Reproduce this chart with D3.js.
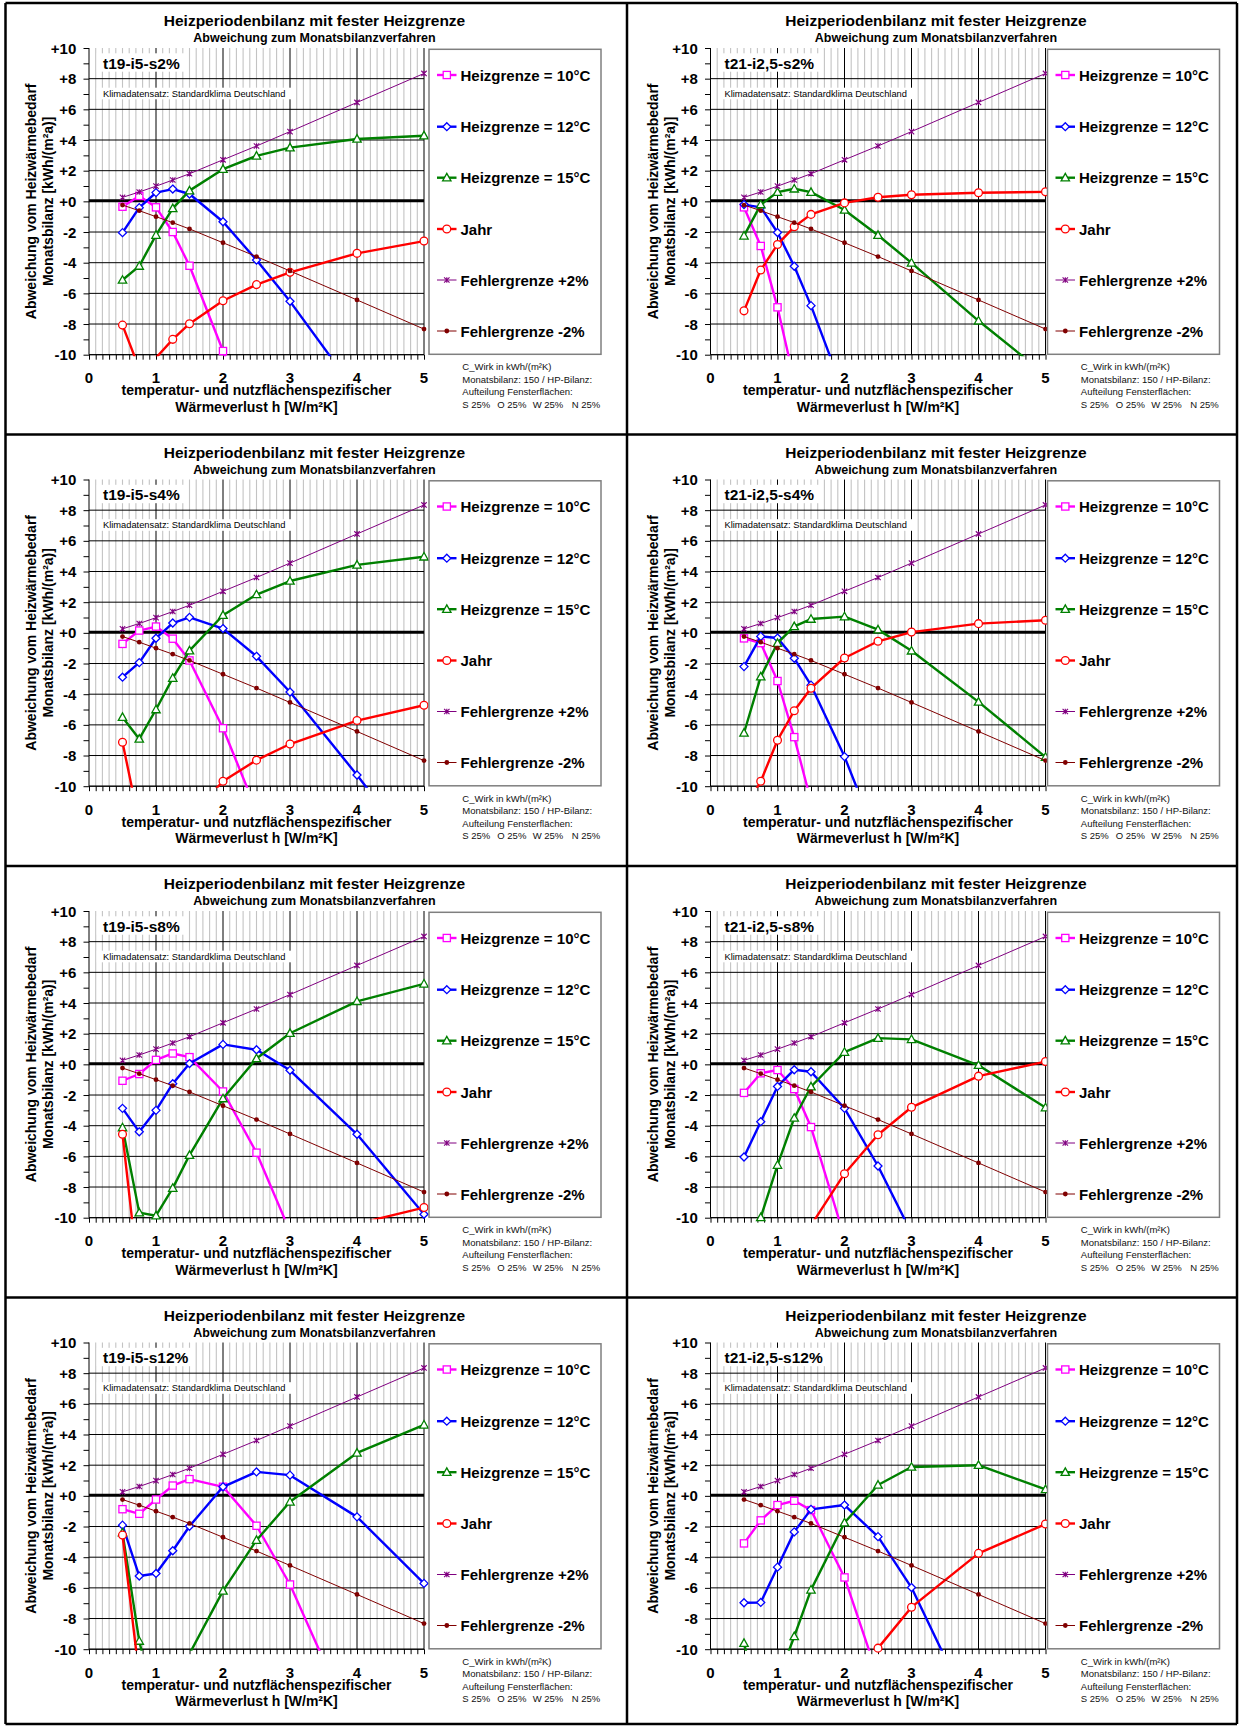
<!DOCTYPE html>
<html><head><meta charset="utf-8">
<script src="https://cdn.jsdelivr.net/npm/d3@7"></script>
<style>
body{margin:0;background:#fff}
svg{display:block}
text{font-family:"Liberation Sans",Arial,Helvetica,sans-serif}
</style>
</head><body>
<svg id="chart" width="1239" height="1726"></svg>
<script>
// ---------- DATA ----------
const hValues = [0.5, 0.75, 1, 1.25, 1.5, 2, 2.5, 3, 4, 5];
const xTickLabels = ["0", "1", "2", "3", "4", "5"];
const yTickValues = [10, 8, 6, 4, 2, 0, -2, -4, -6, -8, -10];
const yTickLabels = ["+10", "+8", "+6", "+4", "+2", "+0", "-2", "-4", "-6", "-8", "-10"];
const seriesNames = ["Heizgrenze = 10°C", "Heizgrenze = 12°C", "Heizgrenze = 15°C", "Jahr", "Fehlergrenze +2%", "Fehlergrenze -2%"];
const panelLabels = ["t19-i5-s2%", "t21-i2,5-s2%", "t19-i5-s4%", "t21-i2,5-s4%", "t19-i5-s8%", "t21-i2,5-s8%", "t19-i5-s12%", "t21-i2,5-s12%"];

const fgPlus  = [0.26, 0.61, 0.99, 1.39, 1.8, 2.71, 3.61, 4.55, 6.45, 8.34];
const fgMinus = [-0.24, -0.61, -1.0, -1.39, -1.8, -2.7, -3.6, -4.54, -6.43, -8.33];

// t19-i5-s2%
const hg10_t19_s2 = [-0.35, 0.35, -0.39, -2.0, -4.2, -9.76, -16, -22, -30, -38];
const hg12_t19_s2 = [-2.04, -0.41, 0.57, 0.8, 0.48, -1.33, -3.83, -6.52, -12.5, -19];
const hg15_t19_s2 = [-5.13, -4.22, -2.2, -0.46, 0.7, 2.1, 2.96, 3.5, 4.07, 4.28];
const jahr_t19_s2 = [-8.07, -10.9, -10.2, -9.0, -7.98, -6.48, -5.43, -4.63, -3.39, -2.59];
// t21-i2,5-s2%
const hg10_t21_s2 = [-0.39, -2.91, -6.91, -11.7, -16, -24, -30, -36, -44, -50];
const hg12_t21_s2 = [-0.21, -0.39, -2.03, -4.23, -6.8, -12.6, -18, -24, -32, -40];
const hg15_t21_s2 = [-2.25, -0.21, 0.6, 0.82, 0.6, -0.56, -2.21, -4.01, -7.79, -11.3];
const jahr_t21_s2 = [-7.14, -4.48, -2.81, -1.66, -0.85, -0.1, 0.27, 0.43, 0.56, 0.62];
// t19-i5-s4%
const hg10_t19_s4 = [-0.72, 0.15, 0.41, -0.38, -1.8, -6.22, -11.6, -17, -25, -33];
const hg12_t19_s4 = [-2.89, -1.94, -0.35, 0.64, 1.01, 0.28, -1.53, -3.86, -9.27, -15];
const hg15_t19_s4 = [-5.5, -6.92, -5.0, -2.95, -1.16, 1.15, 2.5, 3.38, 4.43, 4.96];
const jahr_t19_s4 = [-7.13, -12.4, -15, -14, -12.0, -9.68, -8.3, -7.25, -5.72, -4.72];
// t21-i2,5-s4%
const hg10_t21_s4 = [-0.36, -0.67, -3.14, -6.8, -11.0, -18, -25, -32, -40, -48];
const hg12_t21_s4 = [-2.2, -0.23, -0.34, -1.66, -3.41, -8.07, -13.6, -19, -27, -35];
const hg15_t21_s4 = [-6.53, -2.86, -0.67, 0.42, 0.9, 1.06, 0.21, -1.17, -4.5, -8.1];
const jahr_t21_s4 = [-11.6, -9.68, -7.0, -5.08, -3.61, -1.64, -0.55, 0.05, 0.6, 0.82];
// t19-i5-s8%
const hg10_t19_s8 = [-1.07, -0.63, 0.29, 0.71, 0.47, -1.77, -5.76, -10.9, -20, -28];
const hg12_t19_s8 = [-2.87, -4.4, -3.0, -1.26, 0.05, 1.3, 0.95, -0.39, -4.56, -9.78];
const hg15_t19_s8 = [-4.12, -9.67, -9.87, -8.07, -5.92, -2.23, 0.38, 2.03, 4.11, 5.25];
const jahr_t19_s8 = [-4.56, -14.3, -16, -16, -15.5, -14.5, -13.5, -12.5, -10.4, -9.34];
// t21-i2,5-s8%
const hg10_t21_s8 = [-1.86, -0.58, -0.37, -1.61, -4.09, -11.3, -18, -25, -33, -40];
const hg12_t21_s8 = [-6.04, -3.74, -1.44, -0.35, -0.48, -2.87, -6.63, -11.0, -19, -27];
const hg15_t21_s8 = [-13, -9.98, -6.57, -3.5, -1.46, 0.8, 1.71, 1.63, -0.06, -2.82];
const jahr_t21_s8 = [-18, -16, -14, -12, -10.5, -7.13, -4.59, -2.8, -0.77, 0.18];
// t19-i5-s12%
const hg10_t19_s12 = [-0.87, -1.17, -0.24, 0.67, 1.09, 0.59, -1.95, -5.78, -15.6, -24];
const hg12_t19_s12 = [-1.91, -5.23, -5.06, -3.58, -1.98, 0.59, 1.56, 1.35, -1.37, -5.71];
const hg15_t19_s12 = [-2.4, -9.47, -14, -13, -10.3, -6.2, -2.89, -0.39, 2.8, 4.63];
const jahr_t19_s12 = [-2.56, -11.8, -18, -20, -20, -20, -20, -20, -20, -20];
// t21-i2,5-s12%
const hg10_t21_s12 = [-3.1, -1.6, -0.6, -0.32, -0.93, -5.32, -11.8, -18, -26, -34];
const hg12_t21_s12 = [-6.97, -6.95, -4.65, -2.35, -0.88, -0.6, -2.66, -5.98, -15.1, -23];
const hg15_t21_s12 = [-9.61, -14, -12.1, -9.17, -6.13, -1.75, 0.71, 1.88, 2.0, 0.42];
const jahr_t21_s12 = [-24, -22, -20, -18, -16, -14, -9.93, -7.26, -3.75, -1.84];

const noteLines = ["C_Wirk in kWh/(m²K)", "Monatsbilanz: 150 / HP-Bilanz:", "Aufteilung Fensterflächen:"];
const orientLabels = ["S 25%", "O 25%", "W 25%", "N 25%"];

// ---------- BUILD ----------
const panelSeries = [
  [hg10_t19_s2, hg12_t19_s2, hg15_t19_s2, jahr_t19_s2],
  [hg10_t21_s2, hg12_t21_s2, hg15_t21_s2, jahr_t21_s2],
  [hg10_t19_s4, hg12_t19_s4, hg15_t19_s4, jahr_t19_s4],
  [hg10_t21_s4, hg12_t21_s4, hg15_t21_s4, jahr_t21_s4],
  [hg10_t19_s8, hg12_t19_s8, hg15_t19_s8, jahr_t19_s8],
  [hg10_t21_s8, hg12_t21_s8, hg15_t21_s8, jahr_t21_s8],
  [hg10_t19_s12, hg12_t19_s12, hg15_t19_s12, jahr_t19_s12],
  [hg10_t21_s12, hg12_t21_s12, hg15_t21_s12, jahr_t21_s12]
];
const styles = [
  {color:"#ff00ff", width:2.4, marker:"square"},
  {color:"#0000ff", width:2.4, marker:"diamond"},
  {color:"#008000", width:2.4, marker:"triangle"},
  {color:"#ff0000", width:2.4, marker:"circle"},
  {color:"#800080", width:1, marker:"star"},
  {color:"#800000", width:1, marker:"dot"}
];

const svg = d3.select("#chart");
const colX = [5.5, 627];
const rowY = [3, 434.5, 866, 1297.5];
const colLegendShift = [0, -3];

const P = {x0:83.5, x1:418.5, yTop:45, yBot:351.7};
const xS = d3.scaleLinear().domain([0,5]).range([P.x0, P.x1]);
const yS = d3.scaleLinear().domain([-10,10]).range([P.yBot, P.yTop]);

function drawMarker(g, type, color, x, y) {
  if (type === "square") {
    g.append("rect").attr("x", x-3.6).attr("y", y-3.6).attr("width", 7.2).attr("height", 7.2)
      .attr("fill","#fff").attr("stroke",color).attr("stroke-width",1.3);
  } else if (type === "diamond") {
    g.append("path").attr("d", `M${x},${y-4}L${x+4},${y}L${x},${y+4}L${x-4},${y}Z`)
      .attr("fill","#fff").attr("stroke",color).attr("stroke-width",1.3);
  } else if (type === "triangle") {
    g.append("path").attr("d", `M${x},${y-4.3}L${x+4.2},${y+3.2}L${x-4.2},${y+3.2}Z`)
      .attr("fill","#fff").attr("stroke",color).attr("stroke-width",1.3);
  } else if (type === "circle") {
    g.append("circle").attr("cx",x).attr("cy",y).attr("r",3.9)
      .attr("fill","#fff").attr("stroke",color).attr("stroke-width",1.3);
  } else if (type === "star") {
    const s = 2.7;
    g.append("path").attr("d", `M${x-s},${y-s}L${x+s},${y+s}M${x-s},${y+s}L${x+s},${y-s}M${x},${y-s}L${x},${y+s}`)
      .attr("stroke",color).attr("stroke-width",1.1).attr("fill","none");
  } else if (type === "dot") {
    g.append("circle").attr("cx",x).attr("cy",y).attr("r",2.4).attr("fill",color);
  }
}

const defs = svg.append("defs");

panelLabels.forEach((label, idx) => {
  const c = idx % 2, r = Math.floor(idx / 2);
  const g = svg.append("g").attr("transform", `translate(${colX[c]},${rowY[r]})`);
  const clipId = "clip" + idx;
  defs.append("clipPath").attr("id", clipId).append("rect")
    .attr("x", P.x0).attr("y", P.yTop).attr("width", P.x1-P.x0).attr("height", P.yBot-P.yTop+1.5);

  // titles
  g.append("text").attr("x", 309).attr("y", 17.7).attr("text-anchor","middle").attr("dominant-baseline","central")
    .attr("font-size", 15.5).attr("font-weight","bold").text("Heizperiodenbilanz mit fester Heizgrenze");
  g.append("text").attr("x", 309).attr("y", 35.3).attr("text-anchor","middle").attr("dominant-baseline","central")
    .attr("font-size", 12.5).attr("font-weight","bold").text("Abweichung zum Monatsbilanzverfahren");

  // minor vertical grid
  const minor = d3.range(1, 50).filter(i => i % 10 !== 0).map(i => i/10);
  g.append("g").selectAll("line").data(minor).join("line")
    .attr("x1", d => xS(d)).attr("x2", d => xS(d)).attr("y1", P.yTop).attr("y2", P.yBot)
    .attr("stroke", "#c3c3c3").attr("stroke-width", 1.1);
  // major vertical grid
  g.append("g").selectAll("line").data([1,2,3,4,5]).join("line")
    .attr("x1", d => xS(d)).attr("x2", d => xS(d)).attr("y1", P.yTop).attr("y2", P.yBot)
    .attr("stroke", "#000").attr("stroke-width", 1);
  // major horizontal grid
  g.append("g").selectAll("line").data([8,6,4,2,-2,-4,-6,-8,-10]).join("line")
    .attr("x1", P.x0).attr("x2", P.x1).attr("y1", d => yS(d)).attr("y2", d => yS(d))
    .attr("stroke", "#000").attr("stroke-width", 1);
  // left axis
  const yAxis = d3.axisLeft(yS).tickValues(d3.range(-10, 11, 1)).tickSize(5.5).tickFormat("");
  const ya = g.append("g").attr("transform", `translate(${P.x0},0)`).call(yAxis);
  ya.select(".domain").attr("stroke","#000").attr("d", `M0,${P.yTop}V${P.yBot}`);
  ya.selectAll(".tick line").attr("stroke","#000");
  // bottom axis ticks
  const xAxis = d3.axisBottom(xS).tickValues(d3.range(0, 51).map(i => i/10)).tickSize(5).tickFormat("");
  const xa = g.append("g").attr("transform", `translate(0,${P.yBot})`).call(xAxis);
  xa.select(".domain").attr("stroke","#000").attr("d", `M${P.x0},0H${P.x1}`);
  xa.selectAll(".tick line").attr("stroke","#000");
  // zero line
  g.append("line").attr("x1", P.x0).attr("x2", P.x1).attr("y1", yS(0)-0.5).attr("y2", yS(0)-0.5)
    .attr("stroke","#000").attr("stroke-width", 3);

  // y tick labels
  g.append("g").selectAll("text").data(yTickValues).join("text")
    .attr("x", 70.8).attr("y", d => yS(d)).attr("text-anchor","end").attr("dominant-baseline","central")
    .attr("font-size", 15).attr("font-weight","bold").text((d,i) => yTickLabels[i]);
  // x tick labels
  g.append("g").selectAll("text").data(xTickLabels).join("text")
    .attr("x", (d,i) => xS(i)).attr("y", 374.7).attr("text-anchor","middle").attr("dominant-baseline","central")
    .attr("font-size", 15).attr("font-weight","bold").text(d => d);

  // axis titles
  g.append("text").attr("x", 251).attr("y", 387).attr("text-anchor","middle").attr("dominant-baseline","central")
    .attr("font-size", 14).attr("font-weight","bold").text("temperatur- und nutzflächenspezifischer");
  g.append("text").attr("x", 251).attr("y", 403.7).attr("text-anchor","middle").attr("dominant-baseline","central")
    .attr("font-size", 14).attr("font-weight","bold").text("Wärmeverlust h [W/m²K]");
  const cy = (P.yTop + P.yBot) / 2;
  g.append("text").attr("transform", `translate(25.8,${cy}) rotate(-90)`).attr("text-anchor","middle").attr("dominant-baseline","central")
    .attr("font-size", 14).attr("font-weight","bold").text("Abweichung vom Heizwärmebedarf");
  g.append("text").attr("transform", `translate(42.7,${cy}) rotate(-90)`).attr("text-anchor","middle").attr("dominant-baseline","central")
    .attr("font-size", 14).attr("font-weight","bold").text("Monatsbilanz [kWh/(m²a)]");

  // label boxes
  const lb = g.append("g");
  const lbt = lb.append("text").attr("x", 97.5).attr("y", 60).attr("dominant-baseline","central")
    .attr("font-size", 15.5).attr("font-weight","bold").text(label);
  const bb = lbt.node().getBBox();
  lb.insert("rect","text").attr("x", 91.2).attr("y", 50.3).attr("width", bb.width + 12.6).attr("height", 18.4).attr("fill","#fff");
  const kb = g.append("g");
  kb.append("rect").attr("x", 91.2).attr("y", 84.7).attr("width", 196.6).attr("height", 11.6).attr("fill","#fff");
  kb.append("text").attr("x", 97.5).attr("y", 90.5).attr("dominant-baseline","central")
    .attr("font-size", 9.3).text("Klimadatensatz: Standardklima Deutschland");

  // series
  const allSeries = [...panelSeries[idx], fgPlus, fgMinus];
  const line = d3.line().x((d,i) => xS(hValues[i])).y(d => yS(d));
  const sg = g.append("g");
  allSeries.forEach((vals, si) => {
    const st = styles[si];
    sg.append("path").attr("d", line(vals)).attr("fill","none").attr("stroke", st.color)
      .attr("stroke-width", st.width).attr("stroke-linejoin","round").attr("clip-path", `url(#${clipId})`);
    const mg = sg.append("g");
    vals.forEach((v, i) => {
      if (v >= -10.05 && v <= 10) drawMarker(mg, st.marker, st.color, xS(hValues[i]), yS(v));
    });
  });

  // legend
  const ls = colLegendShift[c];
  const lg = g.append("g").attr("transform", `translate(${ls},0)`);
  lg.append("rect").attr("x", 423.5).attr("y", 46.3).attr("width", 172).attr("height", 305)
    .attr("fill","#fff").attr("stroke","#7f7f7f").attr("stroke-width", 1.5);
  const legY = [72, 123.7, 174.7, 226, 277, 328];
  seriesNames.forEach((name, si) => {
    const st = styles[si];
    const y = legY[si];
    lg.append("line").attr("x1", 431.5).attr("x2", 451).attr("y1", y).attr("y2", y)
      .attr("stroke", st.color).attr("stroke-width", st.width);
    drawMarker(lg, st.marker, st.color, 441.3, y);
    lg.append("text").attr("x", 455).attr("y", y).attr("dominant-baseline","central")
      .attr("font-size", 15).attr("font-weight","bold").text(name);
  });

  // notes
  const ng = g.append("g").attr("font-size", 9.5).attr("fill","#111").attr("transform", `translate(${ls},0)`);
  const noteY = [363.7, 376.2, 388.7, 401.2];
  noteLines.forEach((t, i) => {
    ng.append("text").attr("x", 456.8).attr("y", noteY[i]).attr("dominant-baseline","central").text(t);
  });
  const ox = [456.8, 491.8, 527.2, 566.2];
  orientLabels.forEach((t, i) => {
    ng.append("text").attr("x", ox[i]).attr("y", noteY[3]).attr("dominant-baseline","central").text(t);
  });
});

// frame
const frame = svg.append("g").attr("stroke","#000").attr("stroke-width", 2.5);
[5.5, 627, 1237].forEach(x => frame.append("line").attr("x1",x).attr("x2",x).attr("y1",3).attr("y2",1724));
[3, 434.5, 866, 1297.5, 1724].forEach(y => frame.append("line").attr("x1",5.5).attr("x2",1237).attr("y1",y).attr("y2",y));
</script>
</body></html>
